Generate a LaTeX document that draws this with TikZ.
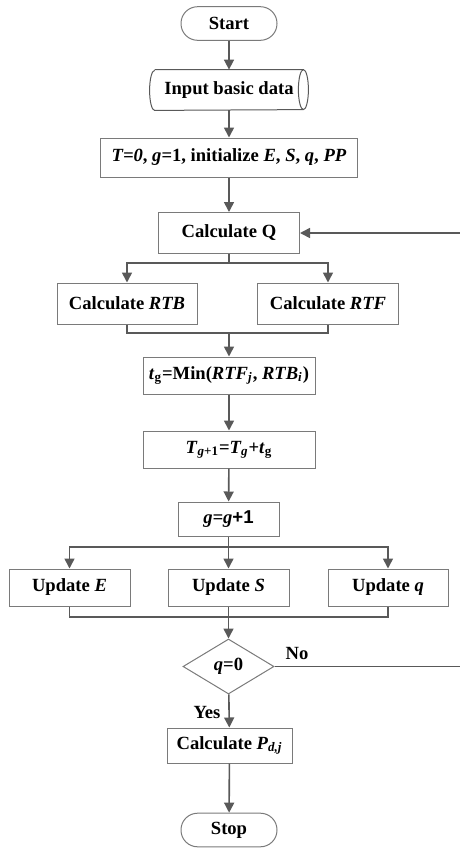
\documentclass[tikz,border=0pt]{standalone}
\usepackage{fontspec}
\setmainfont{Liberation Serif}
\newfontfamily\arialfont{Liberation Sans}
\usetikzlibrary{positioning, arrows.meta, shapes.geometric}
\definecolor{linegray}{HTML}{595959}
\definecolor{boxgray}{HTML}{7A7A7A}
\tikzset{
  x=0.5pt, y=0.5pt,
  every node/.style={font=\fontsize{9.3}{11}\selectfont\bfseries, inner sep=0pt},
  process/.style={draw=boxgray, line width=0.5pt, rectangle},
  term/.style={draw=boxgray, line width=0.5pt, rectangle, rounded corners=8.3pt,
    minimum width=48pt, minimum height=16.8pt},
  io/.style={rectangle, minimum width=79pt, minimum height=20pt},
  ioline/.style={draw=linegray, line width=0.5pt},
  decision/.style={draw=boxgray, line width=0.5pt, diamond,
    minimum width=45.5pt, minimum height=27.5pt},
  lbl/.style={},
  line/.style={draw=linegray, line width=0.8pt},
  arr/.style={line, -{Triangle[length=5pt,width=5pt]}}
}

\begin{document}
\begin{tikzpicture}
  \useasboundingbox (0,0) rectangle (460,-848);

  % main column
  \node[term] (start) at (229,-23.5) {Start};
  \node[io] (input) at (229,-90) {Input basic data};
  \draw[ioline] ([xshift=2.5pt]input.north west) -- ([xshift=-2.5pt]input.north east)
    arc[start angle=90, end angle=-90, x radius=2.5pt, y radius=10pt]
    -- ([xshift=2.5pt]input.south west)
    arc[start angle=270, end angle=90, x radius=2.5pt, y radius=10pt];
  \draw[ioline] ([xshift=-2.5pt]input.north east)
    arc[start angle=90, end angle=270, x radius=2.5pt, y radius=10pt];
  \node[process, minimum width=128.5pt, minimum height=19.5pt] (init) at (229,-157.5)
    {\textit{T=0}, \textit{g}=1, initialize \textit{E}, \textit{S}, \textit{q}, \textit{PP}};
  \node[process, minimum width=70.5pt, minimum height=20.5pt] (calcQ) at (229,-233) {Calculate Q};
  \node[process, minimum width=70pt, minimum height=20.5pt] (rtb) at (127,-303.5) {Calculate \textit{RTB}};
  \node[process, minimum width=70.5pt, minimum height=20.5pt] (rtf) at (328,-303.5) {Calculate \textit{RTF}};
  \node[process, minimum width=86pt, minimum height=18.5pt] (tg) at (229,-375.5)
    {\textit{t}\textsubscript{g}=Min(\textit{RTF\textsubscript{j}}, \textit{RTB\textsubscript{i}})};
  \node[process, minimum width=86pt, minimum height=18.5pt] (Tg) at (229,-449.5)
    {\textit{T}\textsubscript{\textit{g}+1}=\textit{T\textsubscript{g}}+\textit{t}\textsubscript{g}};
  \node[process, minimum width=50.5pt, minimum height=17pt] (gnext) at (228.5,-519)
    {\textit{g=g}{\arialfont+1}};
  \node[process, minimum width=60.5pt, minimum height=18.5pt] (updE) at (69.5,-587.5) {Update \textit{E}};
  \node[process, minimum width=60.5pt, minimum height=18.5pt] (updS) at (228.5,-587.5) {Update \textit{S}};
  \node[process, minimum width=60pt, minimum height=18.5pt] (updq) at (388,-587.5) {Update \textit{q}};
  \node[decision] (check) at (228.5,-666.5) {\textit{q}=0};
  \node[process, minimum width=62.5pt, minimum height=17.5pt] (calcP) at (229.5,-745.5)
    {Calculate \textit{P\textsubscript{d,j}}};
  \node[term] (stop) at (229,-830) {Stop};

  \node[lbl] (no) at (297,-653) {No};
  \node[lbl] (yes) at (207,-712) {Yes};

  \coordinate (s1) at (229,-263);
  \coordinate (m1) at (229,-333);
  \coordinate (s2) at (228.5,-547);
  \coordinate (m2) at (228.5,-617);
  \coordinate (back) at (475,-450);

  \draw[arr] (start) -- (input);
  \draw[arr] (input) -- (init);
  \draw[arr] (init) -- (calcQ);
  \draw[line] (calcQ) -- (s1);
  \draw[arr] (s1) -| (rtb);
  \draw[arr] (s1) -| (rtf);
  \draw[line] (rtb) |- (m1) -| (rtf);
  \draw[arr] (m1) -- (tg);
  \draw[arr] (tg) -- (Tg);
  \draw[arr] (Tg) -- (gnext);
  \draw[line] (gnext) -- (s2);
  \draw[arr] (s2) -| (updE);
  \draw[arr] (s2) -- (updS);
  \draw[arr] (s2) -| (updq);
  \draw[line] (updE) |- (m2) -| (updq);
  \draw[line] (updS) -- (m2);
  \draw[arr] (m2) -- (check);
  \draw[arr] (check) -- (calcP);
  \draw[arr] (calcP) -- (stop);
  \draw[arr] (check.east) -| (back) |- (calcQ);
\end{tikzpicture}
\end{document}
